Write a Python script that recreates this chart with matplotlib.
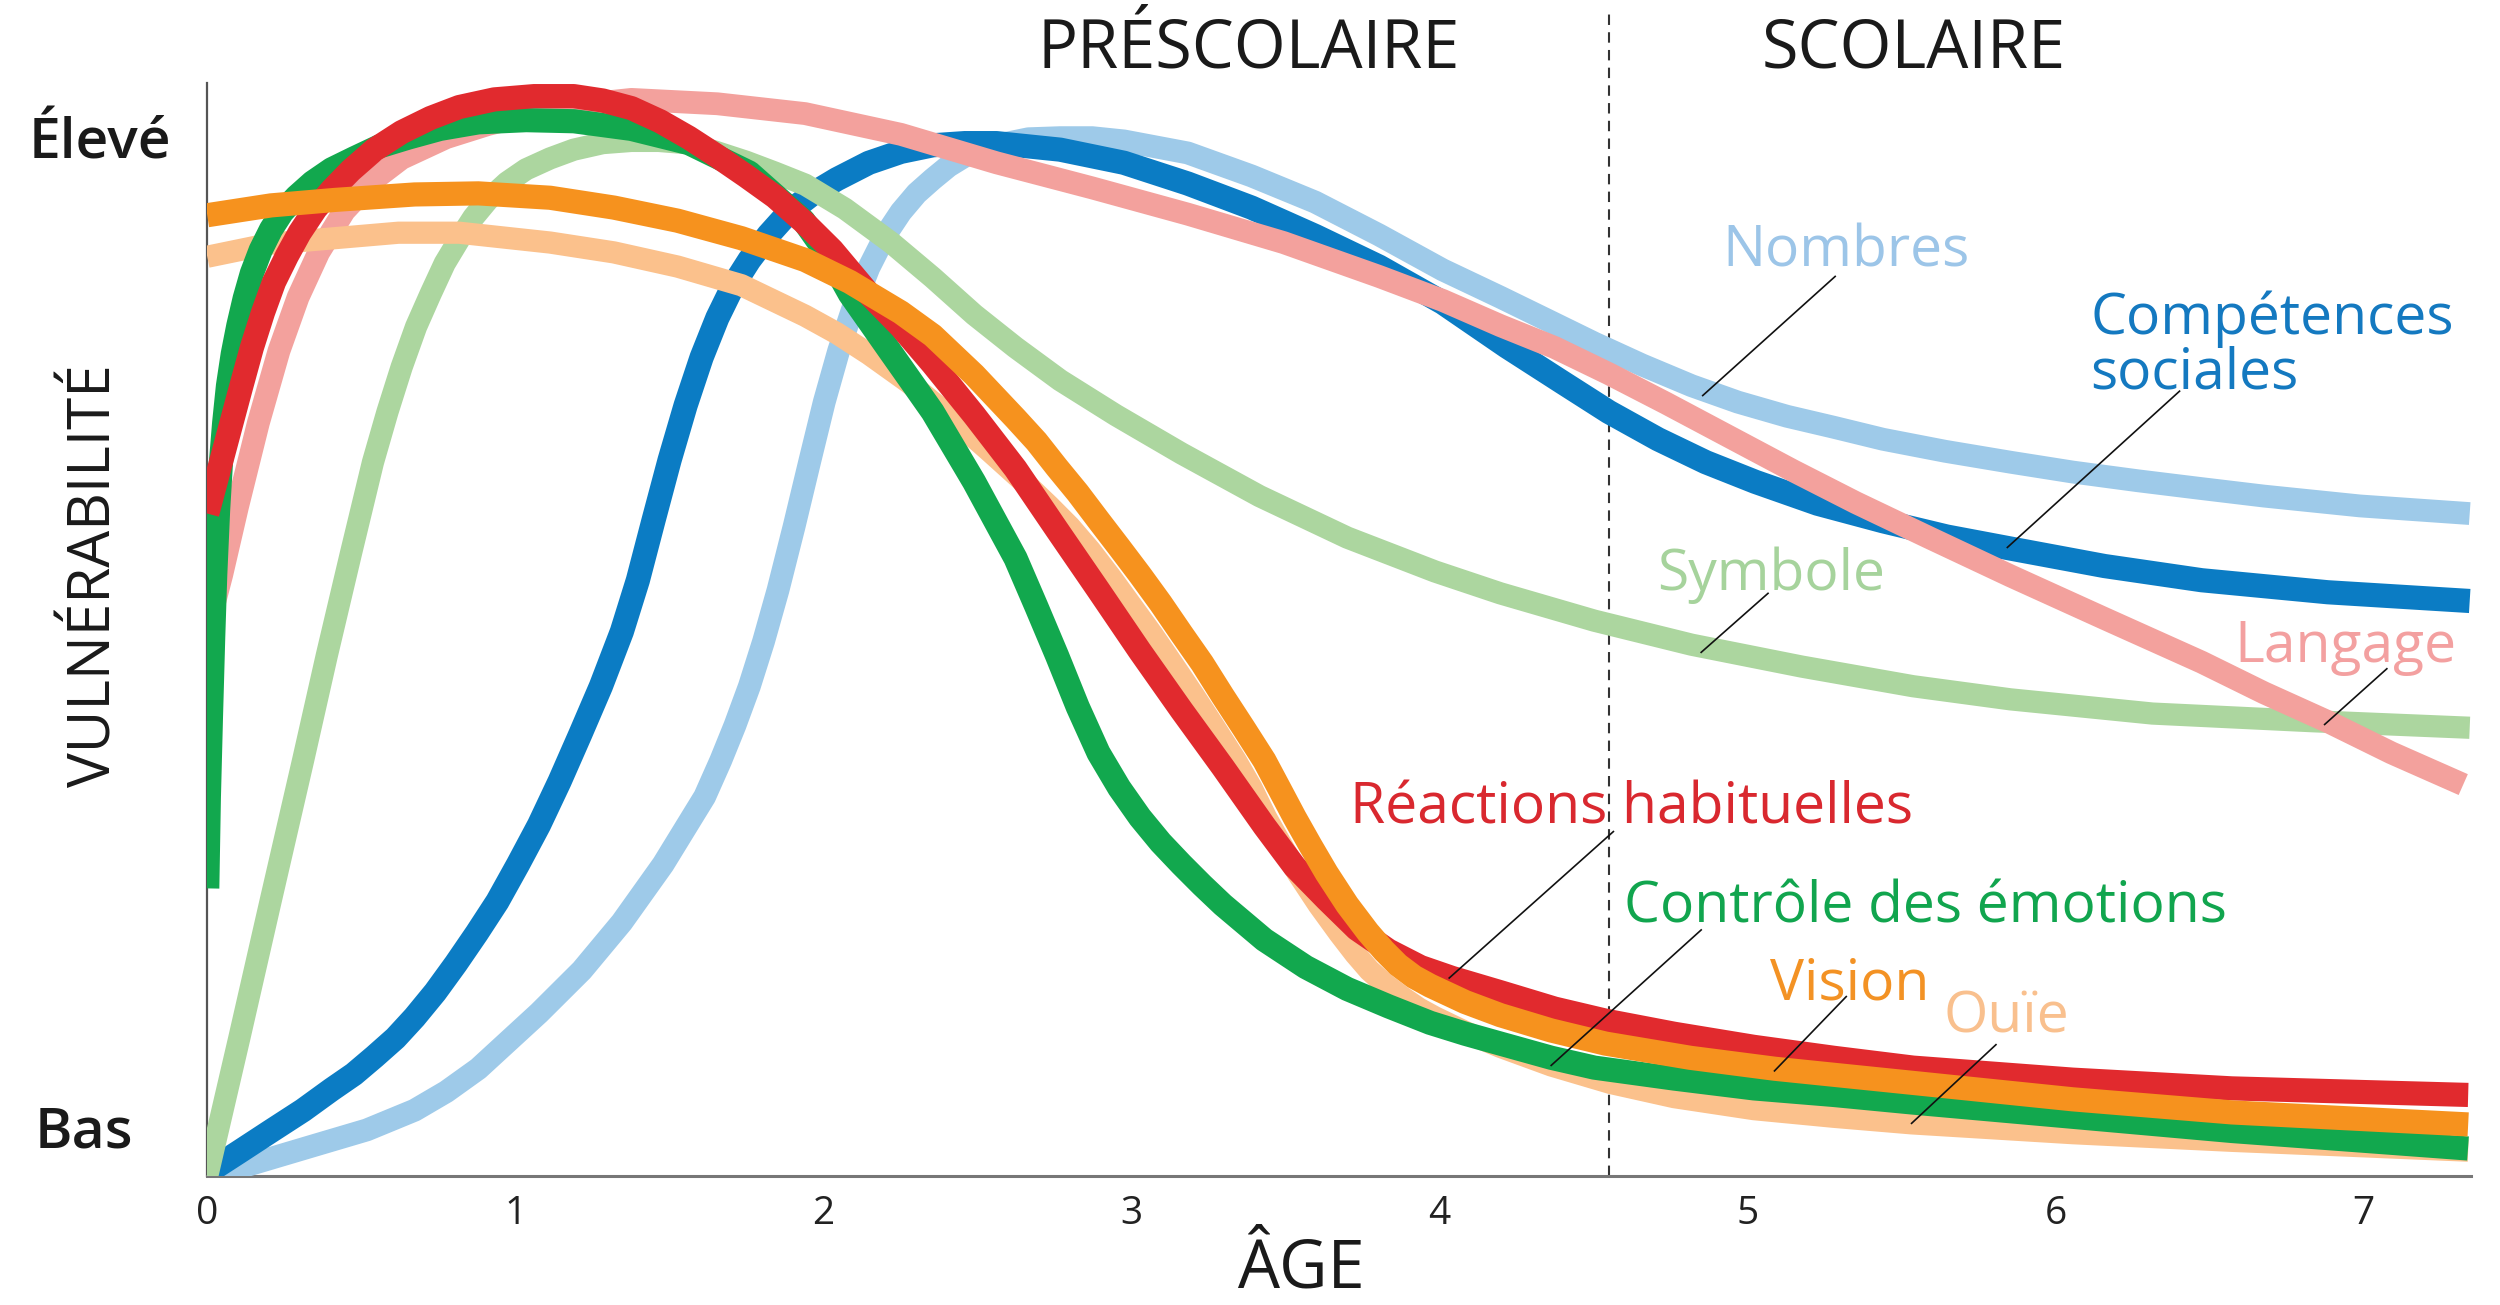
import matplotlib
matplotlib.use("Agg")
import matplotlib.pyplot as plt
import matplotlib.patches as mpatches

plt.rcParams['font.family'] = ['Open Sans', 'DejaVu Sans']

# ---------------- data (age in years, vulnerability in % of scale) ----------------
age_nombres = [0, 0.135, 0.362, 0.518, 0.673, 0.776, 0.88, 1.077, 1.216, 1.346, 1.48, 1.615,
               1.667, 1.713, 1.76, 1.806, 1.853, 1.905, 1.957, 2.003, 2.05, 2.096, 2.148, 2.2,
               2.252, 2.303, 2.355, 2.407, 2.459, 2.562, 2.666, 2.769, 2.873, 2.976, 3.183,
               3.39, 3.597, 3.804, 4.011, 4.198, 4.358, 4.503, 4.658, 4.819, 4.969, 5.129,
               5.28, 5.44, 5.642, 5.854, 6.056, 6.268, 6.47, 6.677, 6.988, 7.345]
vul_nombres = [0, 1.0, 2.9, 4.2, 6.0, 7.7, 9.8, 14.9, 18.8, 23.2, 28.5, 34.7,
               38.0, 41.2, 44.8, 48.9, 53.6, 59.4, 65.5, 70.8, 75.5, 79.4, 83.1, 86.0,
               88.2, 89.9, 91.2, 92.4, 93.3, 94.3, 94.9, 95.0, 95.0, 94.7, 93.6,
               91.5, 89.1, 86.1, 82.9, 80.4, 78.2, 76.2, 74.2, 72.3, 70.8, 69.5,
               68.5, 67.4, 66.3, 65.3, 64.4, 63.6, 62.9, 62.2, 61.3, 60.6]

age_competences = [0, 0.104, 0.207, 0.311, 0.404, 0.476, 0.543, 0.611, 0.673, 0.74, 0.807,
                   0.875, 0.942, 1.009, 1.077, 1.144, 1.211, 1.278, 1.346, 1.398, 1.449,
                   1.501, 1.553, 1.605, 1.656, 1.708, 1.76, 1.822, 1.889, 1.967, 2.044,
                   2.148, 2.252, 2.355, 2.459, 2.562, 2.769, 2.976, 3.183, 3.39, 3.597,
                   3.804, 4.011, 4.218, 4.4, 4.55, 4.71, 4.865, 5.026, 5.228, 5.44, 5.647,
                   5.854, 6.159, 6.475, 6.884, 7.345]
vul_competences = [0.3, 2.2, 4.1, 6.0, 7.9, 9.3, 10.9, 12.6, 14.5, 16.8, 19.4,
                   22.2, 25.1, 28.5, 32.1, 36.1, 40.4, 44.8, 49.8, 54.5, 60.0,
                   65.5, 70.5, 74.9, 78.5, 81.5, 83.8, 86.1, 88.2, 89.9, 91.2,
                   92.7, 93.7, 94.3, 94.5, 94.5, 93.9, 92.7, 90.8, 88.6, 86.0,
                   83.2, 79.9, 75.9, 72.6, 69.9, 67.4, 65.3, 63.5, 61.5, 59.9, 58.5,
                   57.4, 55.8, 54.5, 53.4, 52.6]

age_symbole = [0, 0.104, 0.207, 0.311, 0.388, 0.466, 0.538, 0.585, 0.631, 0.678, 0.725,
               0.771, 0.818, 0.864, 0.911, 0.973, 1.035, 1.113, 1.19, 1.284, 1.377, 1.465,
               1.553, 1.651, 1.749, 1.843, 1.941, 2.07, 2.22, 2.355, 2.49, 2.624, 2.769,
               2.95, 3.163, 3.416, 3.701, 3.986, 4.198, 4.503, 4.819, 5.176, 5.538, 5.854,
               6.315, 6.832, 7.345]
vul_symbole = [0, 12.6, 25.3, 38.0, 47.6, 56.9, 65.3, 69.9, 74.0, 77.7, 80.7,
               83.5, 85.7, 87.7, 89.3, 90.9, 92.1, 93.1, 93.9, 94.5, 94.7, 94.7,
               94.5, 93.7, 92.8, 91.8, 90.7, 88.5, 85.4, 82.2, 78.8, 75.8, 72.8,
               69.6, 66.1, 62.2, 58.4, 55.3, 53.3, 50.8, 48.6, 46.6, 44.8, 43.6,
               42.3, 41.6, 41.0]

age_langage = [0, 0.047, 0.098, 0.166, 0.233, 0.295, 0.362, 0.445, 0.538, 0.631, 0.776,
               0.911, 1.139, 1.377, 1.656, 1.941, 2.252, 2.562, 2.873, 3.183, 3.494, 3.804,
               4.011, 4.198, 4.374, 4.55, 4.736, 4.943, 5.15, 5.352, 5.59, 5.854, 6.159,
               6.475, 6.677, 6.889, 7.091, 7.324]
vul_langage = [49.9, 55.0, 61.2, 68.9, 75.5, 80.4, 84.5, 88.3, 91.1, 93.1, 95.0,
               96.2, 97.8, 98.5, 98.1, 97.2, 95.3, 92.7, 90.4, 88.0, 85.4, 82.3,
               80.1, 77.8, 75.8, 73.4, 70.7, 67.6, 64.5, 61.6, 58.4, 54.9, 51.0,
               47.0, 44.2, 41.5, 38.7, 35.8]

age_ouie = [0, 0.207, 0.414, 0.621, 0.818, 1.113, 1.32, 1.527, 1.734, 1.941, 2.044, 2.148,
            2.277, 2.407, 2.536, 2.666, 2.733, 2.8, 2.867, 2.935, 3.002, 3.069, 3.137,
            3.204, 3.271, 3.339, 3.39, 3.437, 3.489, 3.54, 3.608, 3.675, 3.727, 3.773,
            3.825, 3.877, 3.934, 3.986, 4.089, 4.198, 4.363, 4.555, 4.762, 5.021, 5.28,
            5.533, 6.056, 6.573, 7.34]
vul_ouie = [84.1, 85.3, 85.8, 86.3, 86.3, 85.4, 84.5, 83.2, 81.5, 78.7, 77.1, 75.2,
            72.6, 69.6, 66.4, 63.1, 61.3, 59.4, 57.2, 54.7, 52.1, 49.5, 46.7,
            43.9, 41.0, 38.0, 35.5, 32.8, 30.2, 27.7, 24.8, 22.2, 20.3, 18.8,
            17.5, 16.4, 15.3, 14.5, 13.1, 11.8, 10.1, 8.5, 7.2, 6.1, 5.4,
            4.8, 3.9, 3.2, 2.3]

age_controle = [0, 0.0052, 0.0119, 0.0192, 0.0259, 0.0352, 0.0445, 0.0549, 0.0673, 0.0828,
                0.1009, 0.1216, 0.1449, 0.1734, 0.207, 0.2433, 0.2899, 0.3416, 0.4037,
                0.4762, 0.559, 0.6522, 0.7557, 0.8799, 1.0352, 1.1905, 1.3768, 1.5631,
                1.7598, 1.9358, 2.0186, 2.0859, 2.1532, 2.2153, 2.2878, 2.3551, 2.4224,
                2.4896, 2.5569, 2.6242, 2.6915, 2.7588, 2.8261, 2.8934, 2.9607, 3.028,
                3.0952, 3.1625, 3.2298, 3.2971, 3.3644, 3.4317, 3.5663, 3.7008, 3.8354,
                3.97, 4.0839, 4.1977, 4.3634, 4.5031, 4.7619, 5.0207, 5.2795, 5.5383,
                6.0559, 6.5735, 7.3395]
vul_controle = [26.3, 34.6, 41.9, 49.2, 55.0, 60.9, 65.3, 68.9, 72.3, 75.2,
                77.8, 80.3, 82.6, 84.7, 86.6, 88.2, 89.6, 90.9, 92.1,
                93.1, 94.2, 95.0, 95.8, 96.4, 96.6, 96.5, 95.8, 94.5,
                91.8, 87.4, 84.1, 80.7, 78.0, 75.5, 72.6, 69.9, 66.7,
                63.5, 60.0, 56.5, 52.1, 47.6, 42.9, 38.7, 35.5, 32.8,
                30.5, 28.5, 26.6, 24.8, 23.2, 21.6, 19.1, 17.1, 15.5,
                14.0, 13.0, 12.1, 10.8, 9.9, 8.9, 8.0, 7.4, 6.7,
                5.4, 4.1, 2.5]

age_reactions = [0, 0.036, 0.072, 0.109, 0.145, 0.181, 0.217, 0.259, 0.3, 0.352, 0.404,
                 0.466, 0.543, 0.631, 0.725, 0.818, 0.932, 1.061, 1.19, 1.284, 1.377,
                 1.47, 1.563, 1.656, 1.749, 1.843, 1.936, 2.029, 2.148, 2.252, 2.355,
                 2.49, 2.624, 2.759, 2.893, 3.028, 3.163, 3.297, 3.432, 3.53, 3.634,
                 3.732, 3.835, 3.939, 4.042, 4.198, 4.374, 4.539, 4.762, 5.021, 5.28,
                 5.538, 6.056, 6.573, 7.34]
vul_reactions = [60.6, 64.4, 68.2, 72.1, 75.8, 79.0, 81.8, 84.2, 86.3, 88.5, 90.2,
                 92.0, 93.9, 95.5, 96.8, 97.8, 98.5, 98.8, 98.8, 98.4, 97.7,
                 96.5, 95.0, 93.3, 91.5, 89.6, 87.3, 84.7, 80.7, 77.7, 74.3,
                 69.6, 64.7, 59.1, 53.6, 48.0, 42.6, 37.4, 32.0, 28.3, 25.3,
                 22.6, 20.6, 19.1, 18.1, 16.8, 15.3, 14.2, 13.0, 11.8, 10.8,
                 9.9, 8.8, 8.0, 7.4]

age_vision = [0, 0.207, 0.414, 0.673, 0.88, 1.113, 1.32, 1.527, 1.734, 1.941, 2.086, 2.252,
              2.355, 2.49, 2.624, 2.692, 2.759, 2.826, 2.893, 2.961, 3.028, 3.095, 3.163,
              3.23, 3.297, 3.364, 3.432, 3.483, 3.53, 3.582, 3.634, 3.701, 3.768, 3.82,
              3.866, 3.918, 3.97, 4.084, 4.198, 4.363, 4.539, 4.814, 5.088, 5.538, 6.056,
              6.573, 7.34]
vul_vision = [87.9, 88.8, 89.3, 89.8, 89.9, 89.5, 88.6, 87.4, 85.8, 83.8, 81.8, 79.0,
              76.9, 73.3, 69.3, 67.2, 64.8, 62.5, 60.0, 57.5, 55.0, 52.4, 49.6,
              46.9, 43.9, 41.0, 38.0, 35.3, 32.8, 30.2, 27.7, 24.8, 22.3, 20.6,
              19.3, 18.2, 17.4, 15.9, 14.7, 13.3, 12.1, 10.8, 9.8, 8.5, 7.0,
              5.8, 4.7]

x_ticks = [0, 1, 2, 3, 4, 5, 6, 7]
y_levels = [94.4, 3.9]
y_level_labels = ["Élevé", "Bas"]
periods = ["PRÉSCOLAIRE", "SCOLAIRE"]
period_centers = [3.38, 5.54]
school_start = 4.55

# ---------------- figure ----------------
fig = plt.figure(figsize=(12.5, 6.525), dpi=200)
ax = fig.add_axes([0.0829, 0.0990, 0.9056, 0.8374])
ax.set_xlim(0, 7.35)
ax.set_ylim(0, 100)

clip_rect = mpatches.Rectangle((0, 0), 1, 1.12, transform=ax.transAxes,
                               facecolor='none', edgecolor='none')
ax.add_patch(clip_rect)

series = [
    (age_nombres, vul_nombres, '#9ecae9', 8.2),
    (age_competences, vul_competences, '#0b7cc4', 8.7),
    (age_symbole, vul_symbole, '#acd69f', 8.0),
    (age_langage, vul_langage, '#f3a19d', 8.2),
    (age_ouie, vul_ouie, '#fbc18c', 8.0),
    (age_controle, vul_controle, '#12a84e', 8.7),
    (age_reactions, vul_reactions, '#e12a2e', 8.7),
    (age_vision, vul_vision, '#f6921e', 8.7),
]
for i, (xa, ya, col, lw) in enumerate(series):
    ln, = ax.plot(xa, ya, color=col, lw=lw, solid_joinstyle='round',
                  solid_capstyle='butt', zorder=3 + i * 0.1)
    ln.set_clip_path(clip_rect)

# school-start dashed line
ax.plot([school_start, school_start], [0, 106.4], color='#333333', lw=0.75,
        dashes=(5, 3.5), clip_on=False, zorder=2)

# spines / ticks
for s in ('top', 'right'):
    ax.spines[s].set_visible(False)
ax.spines['left'].set_color('#555555')
ax.spines['left'].set_linewidth(0.8)
ax.spines['bottom'].set_color('#777777')
ax.spines['bottom'].set_linewidth(1.1)
ax.set_xticks(x_ticks)
ax.set_xticklabels([str(t) for t in x_ticks])
ax.tick_params(axis='x', length=0, pad=7.0, labelsize=14, labelcolor='#222222')
ax.set_yticks([])

# y level labels
level_x = [0.0115, 0.0140]
for yl, lab, lx in zip(y_levels, y_level_labels, level_x):
    y_fig = fig.transFigure.inverted().transform(ax.transData.transform((0, yl)))[1]
    fig.text(lx, y_fig, lab, ha='left', va='center', fontsize=20.5,
             fontweight='semibold', color='#1a1a1a')

fig.text(0.0383, 0.5587, "VULNÉRABILITÉ", rotation=90, ha='center', va='center',
         fontsize=21, color='#1a1a1a')
fig.text(0.5204, 0.001, "ÂGE", ha='center', va='bottom', fontsize=24, color='#1a1a1a')

for lab, xc in zip(periods, period_centers):
    ax.text(xc, 103.0, lab, ha='center', va='center', fontsize=24, color='#1a1a1a',
            clip_on=False)

# series labels and leader lines
labels = [
    ("Nombres", 5.32, 84.5, 'center', '#9cc5e8', (5.285, 82.3), (4.855, 71.4)),
    ("Compétences\nsociales", 6.113, 75.9, 'left', '#1479c0', (6.403, 71.8), (5.844, 57.5)),
    ("Symbole", 5.078, 55.0, 'center', '#a6d39c', (5.067, 53.3), (4.85, 47.9)),
    ("Langage", 6.941, 48.3, 'center', '#f3a0a0', (7.076, 46.4), (6.874, 41.3)),
    ("Réactions habituelles", 3.711, 33.6, 'left', '#d9282f', (4.565, 31.5), (4.032, 18.1)),
    ("Contrôle des émotions", 4.60, 24.5, 'left', '#11a54e', (4.85, 22.5), (4.363, 10.1)),
    ("Vision", 5.073, 17.5, 'left', '#f39224', (5.321, 16.4), (5.088, 9.6)),
    ("Ouïe", 5.636, 14.4, 'left', '#f9c08e', (5.807, 12.0), (5.533, 4.8)),
]
for txt, tx, ty, ha, col, p0, p1 in labels:
    ax.text(tx, ty, txt, ha=ha, va='center', fontsize=20.5, color=col,
            linespacing=0.95, zorder=6, clip_on=False)
    ax.plot([p0[0], p1[0]], [p0[1], p1[1]], color='#111111', lw=0.6, zorder=7)

fig.savefig("out.png", dpi=200, facecolor='white')
